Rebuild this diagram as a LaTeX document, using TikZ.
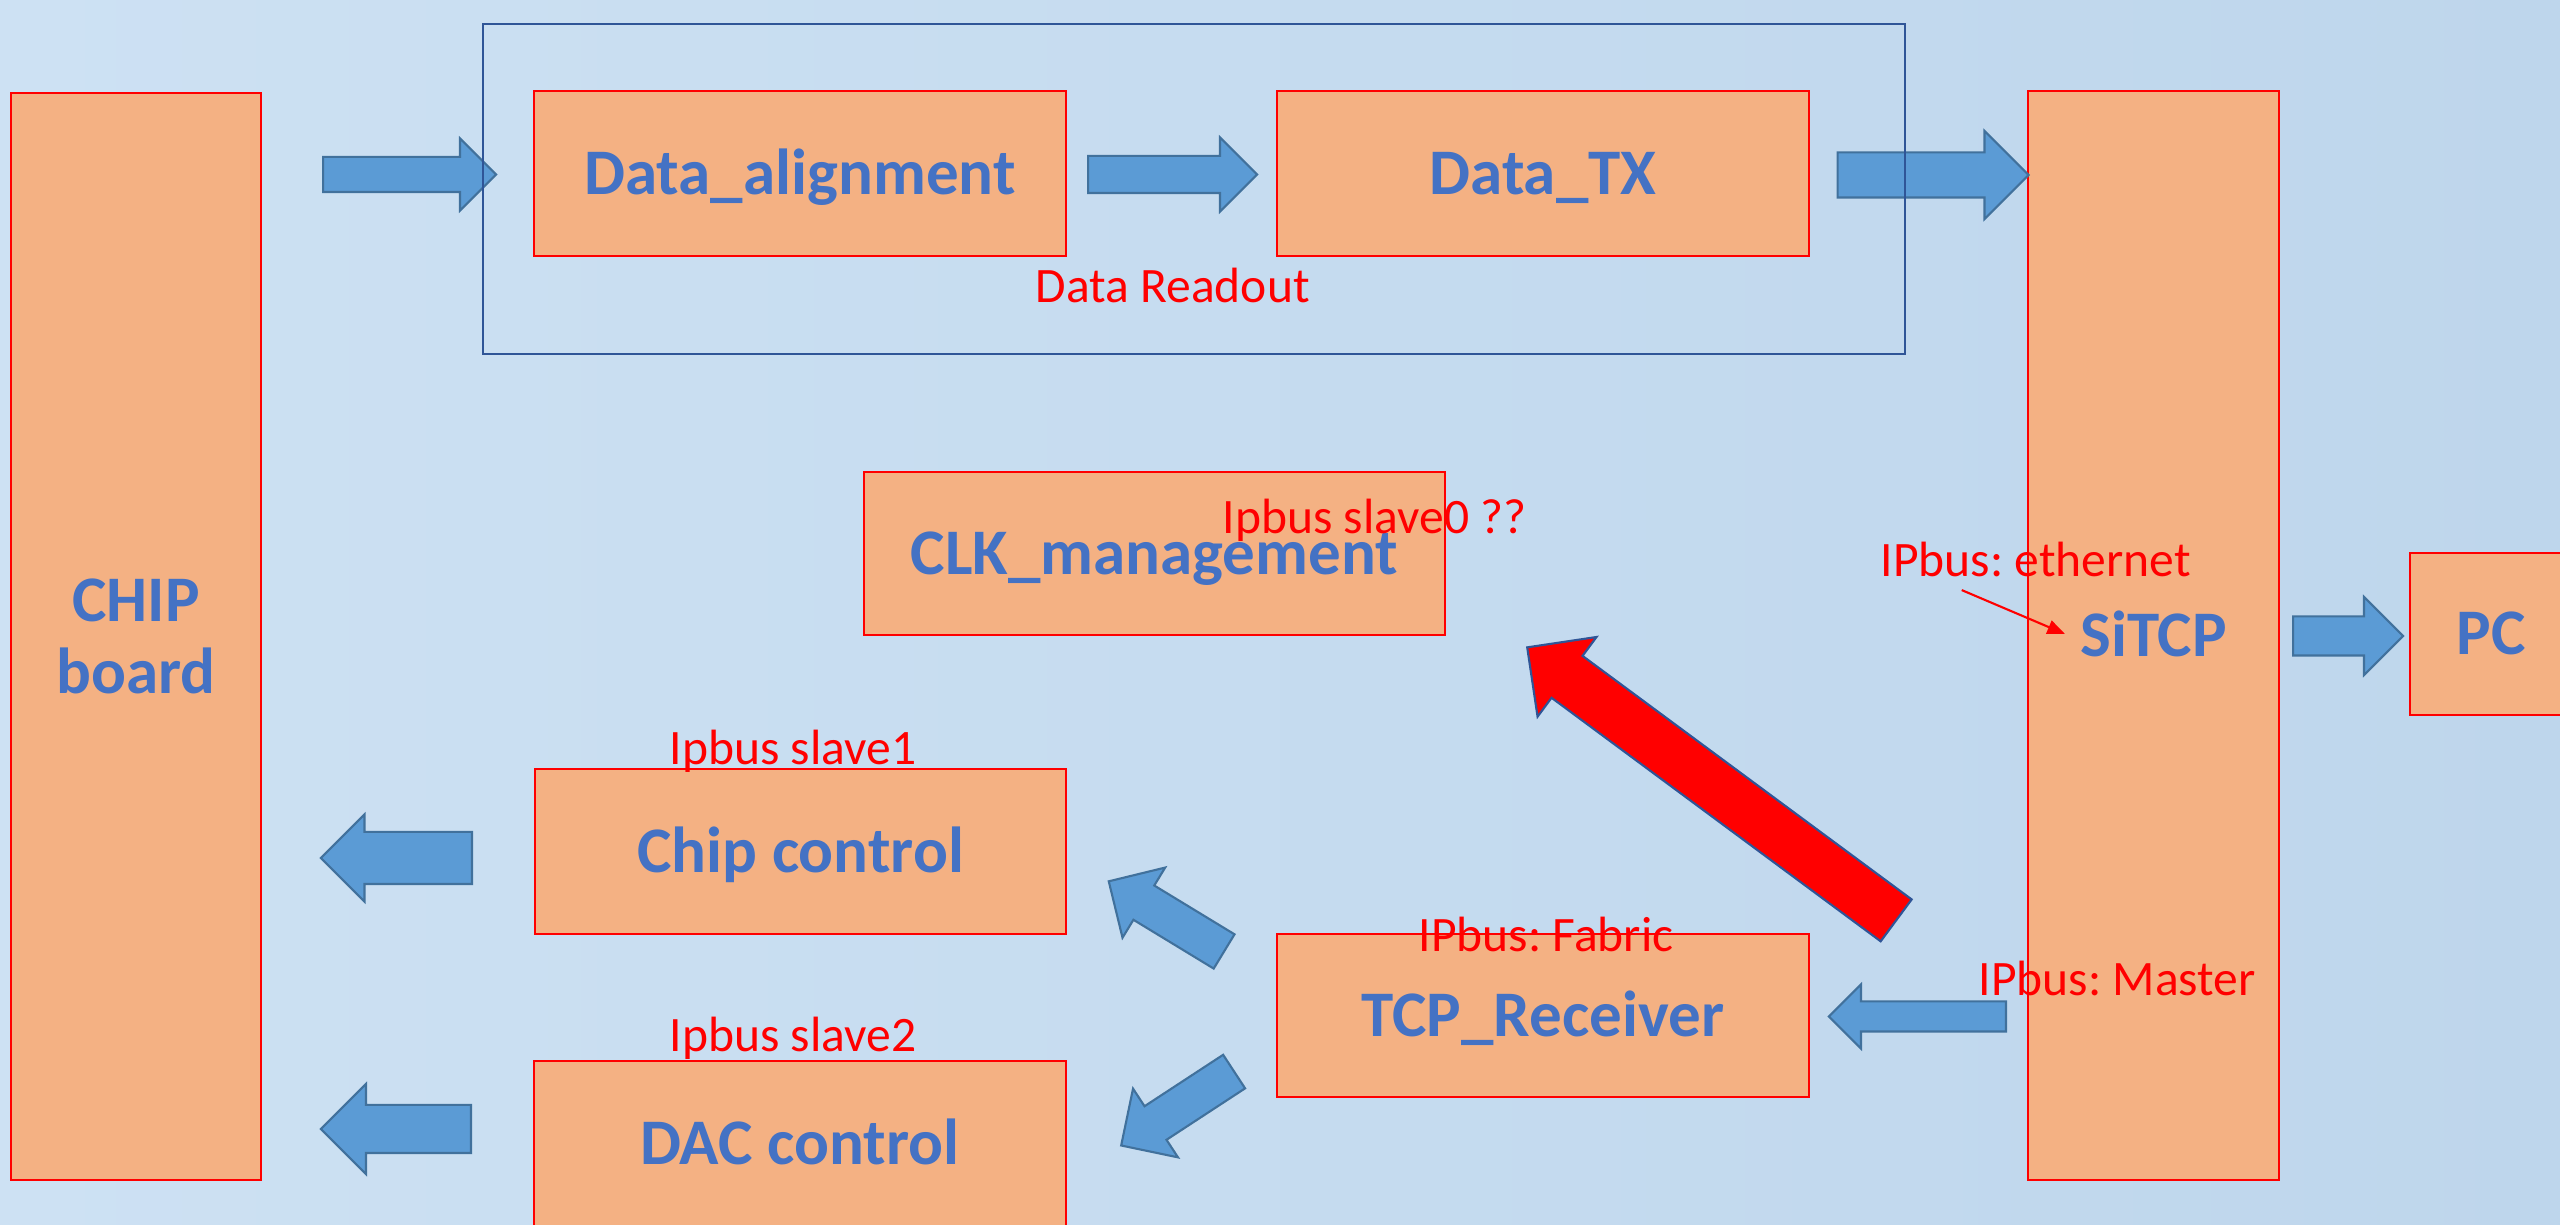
\documentclass[tikz,border=0pt]{standalone}
\usepackage{fontspec}
\setmainfont{Carlito}
\usepackage{tikz}
\usetikzlibrary{arrows.meta}
\usetikzlibrary{shapes.arrows}
\definecolor{boxfill}{HTML}{F4B183}
\definecolor{textblue}{HTML}{4472C4}
\definecolor{arrowfill}{HTML}{5B9BD5}
\definecolor{arrowline}{HTML}{41719C}
\definecolor{framecol}{HTML}{2F5597}
\definecolor{bgleft}{RGB}{205,225,243}
\definecolor{bgright}{RGB}{190,214,236}
\frenchspacing
\tikzstyle{block} = [rectangle, draw=red, fill=boxfill, line width=0.8pt,
    inner sep=0pt, text=textblue, font=\bfseries\fontsize{18.5}{20.5}\selectfont,
    text height=0.42cm, text depth=0pt]
\tikzstyle{fat} = [single arrow, draw=arrowline, fill=arrowfill,
    line width=0.6pt, inner xsep=0pt, anchor=tail]
\tikzstyle{tag} = [text=red, font=\fontsize{14.1}{16}\selectfont,
    inner sep=0pt, anchor=base west]
\tikzset{>={Triangle[length=5pt,width=4pt]}}

\begin{document}
\begin{tikzpicture}
    \useasboundingbox (0,0) rectangle (25.6,-12.25);
    \fill[left color=bgleft, right color=bgright] (0,0) rectangle (25.6,-12.25);
    %blocks
    \node[block, align=center, text height=, text depth=, minimum width=2.50cm, minimum height=10.87cm] (chip) at (1.36,-6.365) {CHIP\\board};
    \node[block, minimum width=5.32cm, minimum height=1.65cm] (align) at (8.00,-1.735) {Data\_alignment};
    \node[block, minimum width=5.32cm, minimum height=1.65cm] (tx) at (15.43,-1.735) {Data\_TX};
    \node[block, minimum width=2.51cm, minimum height=10.89cm] (sitcp) at (21.535,-6.355) {SiTCP};
    \node[block, minimum width=1.62cm, minimum height=1.62cm] (pc) at (24.91,-6.34) {PC};
    \node[block, minimum width=5.81cm, minimum height=1.63cm] (clk) at (11.545,-5.535) {CLK\_management};
    \node[block, minimum width=5.31cm, minimum height=1.65cm] (chipctl) at (8.005,-8.515) {Chip control};
    \node[block, minimum width=5.32cm, minimum height=1.65cm] (dac) at (8.00,-11.435) {DAC control};
    \node[block, minimum width=5.32cm, minimum height=1.63cm] (tcp) at (15.43,-10.155) {TCP\_Receiver};
    %arrows (placed by their tails)
    \node[fat, minimum height=1.73cm, inner ysep=0.165cm, single arrow head extend=0.185cm] (a1) at (3.22,-1.745) {};
    \node[fat, minimum height=1.69cm, inner ysep=0.175cm, single arrow head extend=0.185cm] (a2) at (10.87,-1.745) {};
    \node[fat, minimum height=1.91cm, inner ysep=0.215cm, single arrow head extend=0.215cm] (a3) at (18.365,-1.75) {};
    \node[fat, minimum height=1.10cm, inner ysep=0.185cm, single arrow head extend=0.195cm] (a4) at (22.92,-6.36) {};
    \node[fat, rotate=180, minimum height=1.51cm, inner ysep=0.25cm, single arrow head extend=0.175cm] (a5) at (4.73,-8.58) {};
    \node[fat, rotate=180, minimum height=1.50cm, inner ysep=0.23cm, single arrow head extend=0.21cm] (a6) at (4.72,-11.29) {};
    \node[fat, rotate=148.7, minimum height=1.35cm, inner ysep=0.19cm, single arrow head extend=0.21cm] (a7) at (12.25,-9.52) {};
    \node[fat, rotate=213.2, minimum height=1.35cm, inner ysep=0.19cm, single arrow head extend=0.21cm] (a8) at (12.35,-10.71) {};
    \node[fat, rotate=180, minimum height=1.77cm, inner ysep=0.14cm, single arrow head extend=0.17cm] (a9) at (20.07,-10.165) {};
    \node[fat, fill=red, draw=framecol, rotate=143.5, minimum height=4.59cm, inner ysep=0.25cm, single arrow head extend=0.235cm] (slave0) at (18.97,-9.21) {};
    %readout frame
    \node[draw=framecol, line width=0.6pt, minimum width=14.22cm, minimum height=3.30cm] (readout) at (11.94,-1.89) {};
    %labels
    \node[tag] (readlbl) at (10.35,-3.03) {Data Readout};
    \node[tag] (s0lbl) at (12.22,-5.34) {Ipbus slave0 ??};
    \node[tag] (ethlbl) at (18.80,-5.77) {IPbus: ethernet};
    \node[tag] (fablbl) at (14.18,-9.52) {IPbus: Fabric};
    \node[tag] (mstlbl) at (19.78,-9.96) {IPbus: Master};
    \node[tag] (s1lbl) at (6.69,-7.65) {Ipbus slave1};
    \node[tag] (s2lbl) at (6.69,-10.52) {Ipbus slave2};
    \coordinate (ethtip) at (20.65,-6.34);
    \draw[red, line width=0.6pt, ->] ([shift={(-0.74,-0.12)}]ethlbl.south) -- (ethtip);
\end{tikzpicture}
\end{document}
